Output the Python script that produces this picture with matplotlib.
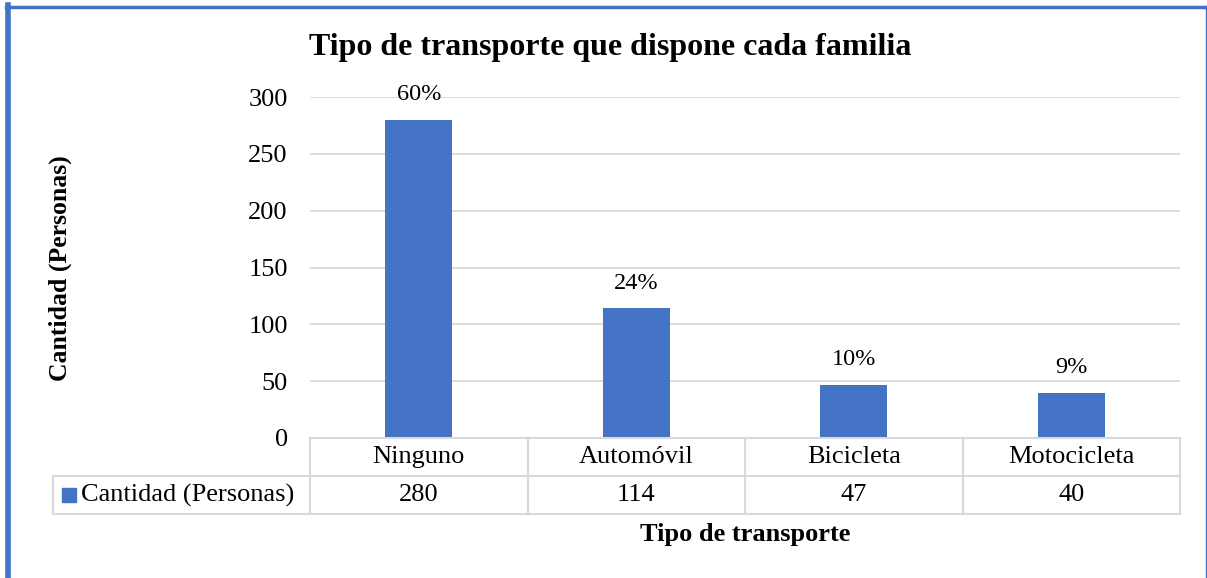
import matplotlib.pyplot as plt
from matplotlib.lines import Line2D
from matplotlib.patches import Rectangle

# data
categorias = ['Ninguno', 'Automóvil', 'Bicicleta', 'Motocicleta']
cantidad = [280, 114, 47, 40]
porcentajes = ['60%', '24%', '10%', '9%']
serie = 'Cantidad (Personas)'

azul = '#4472C4'
gris = '#D9D9D9'

plt.rcParams['font.family'] = ['Liberation Serif', 'DejaVu Serif']

W, H = 1207, 578
fig = plt.figure(figsize=(W / 100, H / 100), dpi=100)

def fx(px):
    return px / W

def fy(py):
    return 1 - py / H

# plot area in pixels
left, right, top, bottom = 310, 1180, 97, 438
ax = fig.add_axes([fx(left), fy(bottom), fx(right - left), fy(top) - fy(bottom)])

x = range(len(categorias))
ax.bar(x, cantidad, width=0.31, color=azul, zorder=3)
for i, v in enumerate(cantidad):
    ax.annotate(porcentajes[i], (i, v), xytext=(0, 18), textcoords='offset points',
                ha='center', va='center', fontsize=17.5)

ax.set_xlim(-0.5, len(categorias) - 0.5)
ax.set_ylim(0, 300)
ax.set_yticks(range(0, 301, 50))
ax.tick_params(axis='y', length=0, labelsize=19, pad=16)
ax.set_xticks([])
ax.grid(axis='y', color=gris, linewidth=1.3, zorder=0)
for s in ax.spines.values():
    s.set_visible(False)

# data table under the chart
row1, row2, row3 = 438, 476, 514
leg_left = 53
col_w = (right - left) / len(categorias)
lw = 1.5
def hline(y, x0, x1):
    fig.add_artist(Line2D([fx(x0), fx(x1)], [fy(y), fy(y)], color=gris, lw=lw))
def vline(xp, y0, y1):
    fig.add_artist(Line2D([fx(xp), fx(xp)], [fy(y0), fy(y1)], color=gris, lw=lw))

hline(row1, left, right)
hline(row2, leg_left, right)
hline(row3, leg_left, right)
vline(leg_left, row2, row3)
for k in range(len(categorias) + 1):
    vline(left + k * col_w, row1, row3)

for k, (c, v) in enumerate(zip(categorias, cantidad)):
    cx = left + (k + 0.5) * col_w
    fig.text(fx(cx), fy((row1 + row2) / 2), c, ha='center', va='center', fontsize=19)
    fig.text(fx(cx), fy((row2 + row3) / 2), str(v), ha='center', va='center', fontsize=19)

fig.add_artist(Rectangle((fx(62), fy(502)), fx(14), fy(488) - fy(502), color=azul))
fig.text(fx(81), fy((row2 + row3) / 2), serie, ha='left', va='center', fontsize=19)

# titles
fig.text(fx(610), fy(47), 'Tipo de transporte que dispone cada familia',
         ha='center', va='center', fontsize=23, fontweight='bold')
fig.text(fx(745), fy(535), 'Tipo de transporte', ha='center', va='center',
         fontsize=19, fontweight='bold')
fig.text(fx(60), fy(268), serie, ha='center', va='center', rotation=90,
         fontsize=18.5, fontweight='bold')

# blue frame
fig.add_artist(Line2D([fx(8), fx(8)], [0, fy(5)], color=azul, lw=4))
fig.add_artist(Line2D([fx(6), fx(1206)], [fy(6.5), fy(6.5)], color=azul, lw=2.5))
fig.add_artist(Line2D([fx(1206), fx(1206)], [0, fy(6)], color=azul, lw=1))

fig.savefig('out.png', dpi=100)
